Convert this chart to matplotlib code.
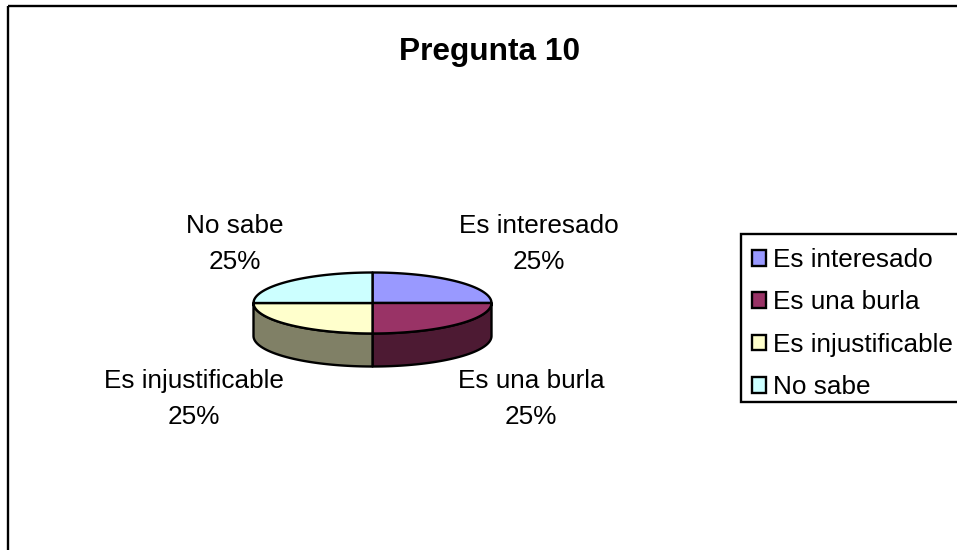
import numpy as np
import matplotlib
matplotlib.use("Agg")
import matplotlib.pyplot as plt
from matplotlib.patches import Patch, Rectangle

plt.rcParams['font.family'] = ['Liberation Sans', 'DejaVu Sans']

title = "Pregunta 10"
categories = ["Es interesado", "Es una burla", "Es injustificable", "No sabe"]
values = [25, 25, 25, 25]
top_colors = ["#9999FF", "#993366", "#FFFFCC", "#CCFFFF"]
side_colors = ["#4D4D80", "#4D1A33", "#808066", "#668080"]
label_centers = [(539, 244), (531, 399), (194, 399), (235, 244)]

W, H = 957, 550
CX, CY, RX, RY, DEPTH = 372.5, 303, 119, 30.5, 33
LW = 1.7
FS = 18.8

fig = plt.figure(figsize=(W / 100, H / 100), dpi=100, facecolor="white")
ax = fig.add_axes([0, 0, 1, 1])
ax.set_xlim(0, W)
ax.set_ylim(H, 0)
ax.axis("off")

# chart frame, running off the right and bottom of the picture
ax.add_patch(Rectangle((8, 6), W + 40, H + 40, fc="none", ec="black", lw=LW, clip_on=True))

ax.text(489.5, 52, title, ha="center", va="center", fontsize=22.8, fontweight="bold", color="black")

# pie: angles from the values, clockwise from 12 o'clock
fractions = np.array(values, dtype=float) / np.sum(values)
edges = np.pi / 2 - 2 * np.pi * np.concatenate([[0], np.cumsum(fractions)])

def ring(t):
    return CX + RX * np.cos(t), CY - RY * np.sin(t)

# side walls (only the parts below the centre line face the viewer)
for a, b, c in zip(edges[:-1], edges[1:], side_colors):
    lo, hi = max(b, -np.pi), min(a, 0)
    if hi <= lo:
        continue
    t = np.linspace(hi, lo, 60)
    x, y = ring(t)
    ax.fill(np.r_[x, x[::-1]], np.r_[y, y[::-1] + DEPTH], fc=c, ec="black", lw=LW, joinstyle="round", zorder=2)

# top faces
for a, b, c in zip(edges[:-1], edges[1:], top_colors):
    t = np.linspace(a, b, 60)
    x, y = ring(t)
    ax.fill(np.r_[CX, x], np.r_[CY, y], fc=c, ec="black", lw=LW, joinstyle="round", zorder=3)

# data labels
for name, v, (lx, ly) in zip(categories, values, label_centers):
    ax.text(lx, ly, f"{name}\n{v}%", ha="center", va="center", fontsize=FS,
            linespacing=1.6, color="black", zorder=4)

# legend frame (runs off the right edge) and legend entries
ax.add_patch(Rectangle((741, 234), W, 168, fc="white", ec="black", lw=LW, zorder=1))
handles = [Patch(fc=c, ec="black", lw=LW) for c in top_colors]
leg = ax.legend(handles, categories, loc="upper left",
                bbox_to_anchor=(752 / W, 1 - 248 / H), bbox_transform=fig.transFigure,
                borderaxespad=0, frameon=False,
                fontsize=FS, labelspacing=0.705, borderpad=0, handlelength=0.55,
                handleheight=0.55, handletextpad=0.25)

fig.savefig("out.png", dpi=100, facecolor="white")
